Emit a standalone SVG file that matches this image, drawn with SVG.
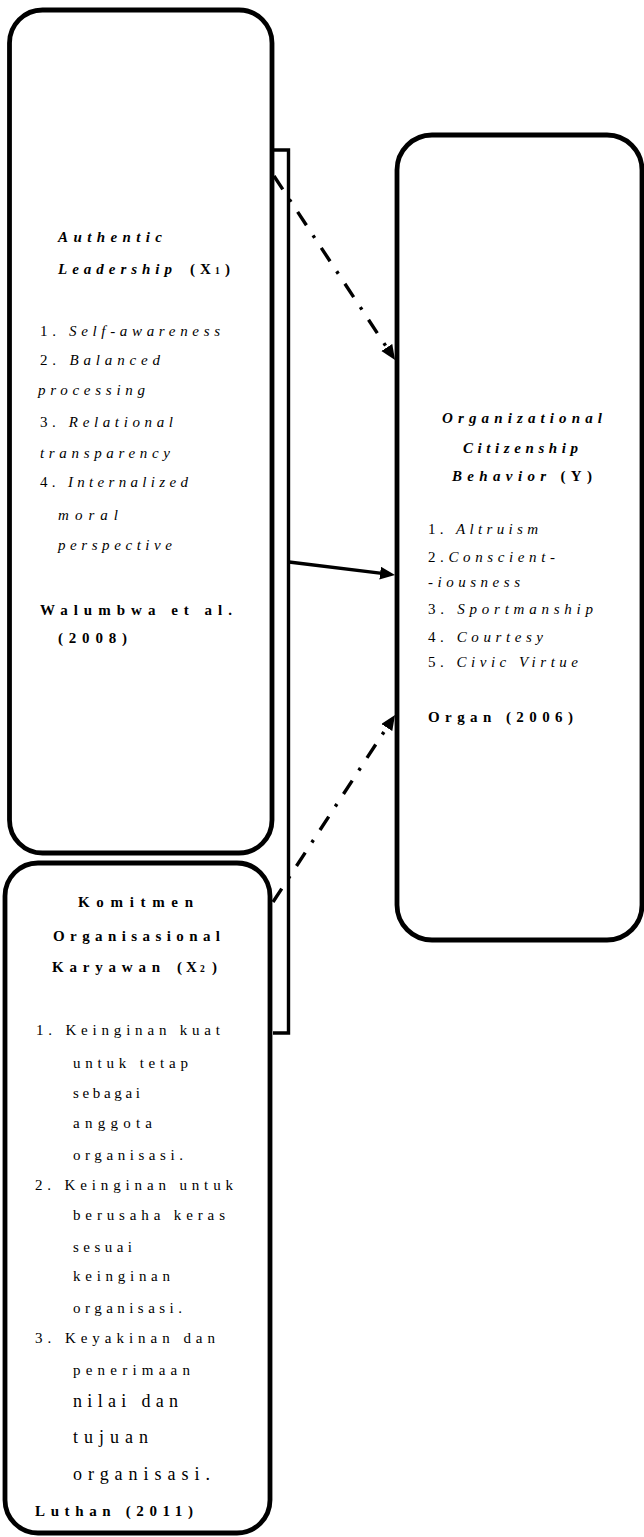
<svg xmlns="http://www.w3.org/2000/svg" width="644" height="1537" viewBox="0 0 644 1537">
<style>
text{font-family:"Liberation Serif","Times New Roman",serif;font-size:15px;fill:#000}
.b{font-weight:bold}
.bi{font-weight:bold;font-style:italic}
.i{font-style:italic}
.n{font-style:normal}
.lg{font-size:18px}
.sub{font-size:9.5px}
.box{fill:#fff;stroke:#000;stroke-width:4.8}
.ln{fill:none;stroke:#000;stroke-width:3.4}
.dd{stroke-dasharray:16 12 3 12}
</style>
<defs>
<marker id="ah" markerUnits="userSpaceOnUse" markerWidth="16" markerHeight="14" refX="6" refY="6.5" orient="auto">
<path d="M0,0 L15,6.5 L0,13 z" fill="#000"/>
</marker>
</defs>
<g id="node-x1">
<rect class="box" x="9.5" y="10" width="262.5" height="843" rx="33"/>
<text class="bi" x="58" y="242" textLength="104" lengthAdjust="spacing">Authentic</text>
<text class="bi" x="58" y="274" textLength="114" lengthAdjust="spacing">Leadership</text>
<text class="b" x="190" y="274">(<tspan x="200">X</tspan><tspan x="215" class="sub">1</tspan><tspan x="225">)</tspan></text>
<text x="40" y="336" textLength="180" lengthAdjust="spacing">1. <tspan class="i">Self-awareness</tspan></text>
<text x="40" y="365" textLength="120" lengthAdjust="spacing">2. <tspan class="i">Balanced</tspan></text>
<text class="i" x="38" y="395" textLength="107" lengthAdjust="spacing">processing</text>
<text x="40" y="427" textLength="133" lengthAdjust="spacing">3. <tspan class="i">Relational</tspan></text>
<text class="i" x="40" y="458" textLength="130" lengthAdjust="spacing">transparency</text>
<text x="40" y="487" textLength="148" lengthAdjust="spacing">4. <tspan class="i">Internalized</tspan></text>
<text class="i" x="58" y="520" textLength="60" lengthAdjust="spacing">moral</text>
<text class="i" x="58" y="550" textLength="114" lengthAdjust="spacing">perspective</text>
<text class="b" x="40" y="615" textLength="192" lengthAdjust="spacing">Walumbwa et al.</text>
<text class="b" x="58" y="643" textLength="69" lengthAdjust="spacing">(2008)</text>
</g>
<g id="node-x2">
<rect class="box" x="5" y="863" width="265" height="670" rx="33"/>
<text class="b" x="78" y="907" textLength="115" lengthAdjust="spacing">Komitmen</text>
<text class="b" x="53" y="941" textLength="167" lengthAdjust="spacing">Organisasional</text>
<text class="b" x="52" y="972" textLength="108" lengthAdjust="spacing">Karyawan</text>
<text class="b" x="177" y="972">(<tspan x="186">X</tspan><tspan x="200" class="sub">2</tspan><tspan x="212">)</tspan></text>
<text x="36" y="1035" textLength="184" lengthAdjust="spacing">1. Keinginan kuat</text>
<text x="73" y="1068" textLength="115" lengthAdjust="spacing">untuk tetap</text>
<text x="73" y="1098" textLength="67" lengthAdjust="spacing">sebagai</text>
<text x="73" y="1128" textLength="79" lengthAdjust="spacing">anggota</text>
<text x="73" y="1160" textLength="110" lengthAdjust="spacing">organisasi.</text>
<text x="35" y="1190" textLength="198" lengthAdjust="spacing">2. Keinginan untuk</text>
<text x="73" y="1220" textLength="152" lengthAdjust="spacing">berusaha keras</text>
<text x="73" y="1252" textLength="59" lengthAdjust="spacing">sesuai</text>
<text x="73" y="1281" textLength="97" lengthAdjust="spacing">keinginan</text>
<text x="73" y="1313" textLength="109" lengthAdjust="spacing">organisasi.</text>
<text x="35" y="1343" textLength="180" lengthAdjust="spacing">3. Keyakinan dan</text>
<text x="73" y="1375" textLength="117" lengthAdjust="spacing">penerimaan</text>
<text class="lg" x="73" y="1407" textLength="105" lengthAdjust="spacing">nilai dan</text>
<text class="lg" x="73" y="1443" textLength="75" lengthAdjust="spacing">tujuan</text>
<text class="lg" x="73" y="1480" textLength="137" lengthAdjust="spacing">organisasi.</text>
<text class="b" x="35" y="1516" textLength="158" lengthAdjust="spacing">Luthan (2011)</text>
</g>
<g id="node-y">
<rect class="box" x="397" y="135" width="245" height="805" rx="35"/>
<text class="bi" x="442" y="423" textLength="160" lengthAdjust="spacing">Organizational</text>
<text class="bi" x="463" y="453" textLength="115" lengthAdjust="spacing">Citizenship</text>
<text class="bi" x="452" y="481" textLength="140" lengthAdjust="spacing">Behavior <tspan class="n">(Y)</tspan></text>
<text x="428" y="534" textLength="110" lengthAdjust="spacing">1. <tspan class="i">Altruism</tspan></text>
<text x="428" y="562" textLength="127" lengthAdjust="spacing">2.<tspan class="i">Conscient-</tspan></text>
<text class="i" x="428" y="587" textLength="92" lengthAdjust="spacing">-iousness</text>
<text x="428" y="614" textLength="165" lengthAdjust="spacing">3. <tspan class="i">Sportmanship</tspan></text>
<text x="428" y="642" textLength="115" lengthAdjust="spacing">4. <tspan class="i">Courtesy</tspan></text>
<text x="428" y="667" textLength="150" lengthAdjust="spacing">5. <tspan class="i">Civic Virtue</tspan></text>
<text class="b" x="428" y="722" textLength="145" lengthAdjust="spacing">Organ (2006)</text>
</g>
<g id="connectors">
<path id="bracket" class="ln" d="M273,150 H288.5 V1033 H273"/>
<line id="x1-y" class="ln dd" x1="274" y1="176" x2="390.1" y2="352.5" marker-end="url(#ah)"/>
<line id="combined-y" class="ln" x1="289" y1="562" x2="386.1" y2="573.9" marker-end="url(#ah)"/>
<line id="x2-y" class="ln dd" x1="273" y1="902" x2="390.1" y2="722.5" marker-end="url(#ah)"/>
</g>
</svg>
